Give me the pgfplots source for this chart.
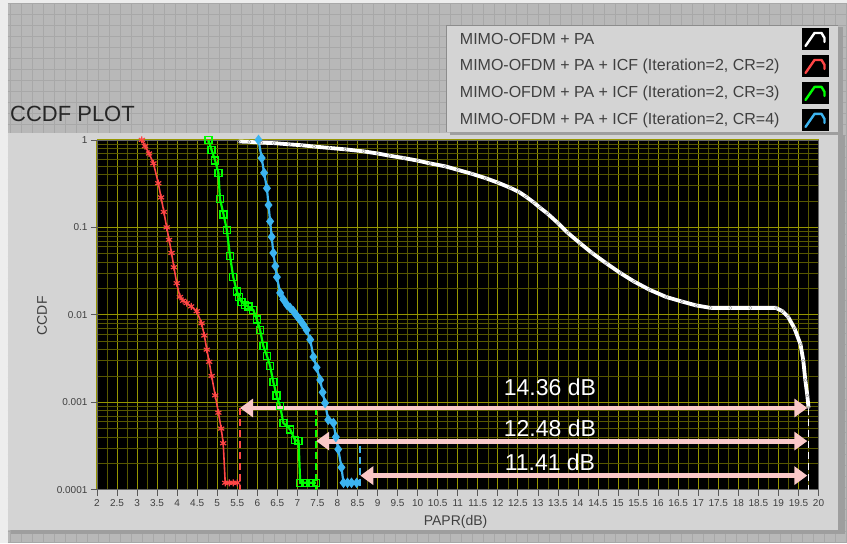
\documentclass[border=0pt]{standalone}
\usepackage{pgfplots}
\pgfplotsset{compat=1.18}
\usepackage{fontspec}
\setmainfont{Liberation Sans}
\usetikzlibrary{arrows.meta}
\definecolor{bggray}{RGB}{184,184,184}
\definecolor{bgline}{RGB}{168,168,168}
\definecolor{panelgray}{RGB}{212,212,212}
\definecolor{txtgray}{RGB}{64,64,64}
\definecolor{gridmaj}{RGB}{150,150,0}
\definecolor{gridmin}{RGB}{88,88,0}
\definecolor{cred}{RGB}{255,70,70}
\definecolor{cgreen}{RGB}{0,255,0}
\definecolor{cblue}{RGB}{60,180,240}
\definecolor{apink}{RGB}{250,200,200}

\pgfplotstableread{
x y
5.54 0.96
5.80 0.95
6.10 0.93
6.41 0.92
6.80 0.89
7.10 0.87
7.42 0.84
7.80 0.81
8.20 0.78
8.65 0.74
9.00 0.70
9.30 0.66
9.66 0.62
10.00 0.58
10.30 0.54
10.68 0.50
11.00 0.455
11.35 0.41
11.70 0.365
12.00 0.325
12.30 0.285
12.52 0.255
12.70 0.225
12.90 0.192
13.05 0.168
13.23 0.145
13.50 0.112
13.74 0.087
14.05 0.066
14.35 0.051
14.70 0.039
15.06 0.030
15.40 0.024
15.78 0.0194
16.20 0.016
16.59 0.0142
16.95 0.0128
17.31 0.0120
17.80 0.0120
18.30 0.0120
18.94 0.0120
19.10 0.0110
19.24 0.0095
19.40 0.0070
19.55 0.0046
19.62 0.0030
19.67 0.0018
19.72 0.0012
19.75 0.00087
}\tblpa

\pgfplotstableread{
x y
3.12 1
3.20 0.85
3.30 0.70
3.41 0.54
3.53 0.32
3.60 0.22
3.67 0.15
3.74 0.10
3.80 0.072
3.86 0.051
3.92 0.035
3.99 0.023
4.07 0.016
4.15 0.0145
4.24 0.0136
4.35 0.0125
4.49 0.011
4.61 0.008
4.68 0.0058
4.74 0.004
4.80 0.0029
4.86 0.002
4.95 0.0012
5.03 0.00076
5.10 0.0005
5.15 0.00034
5.20 0.00012
5.30 0.00012
5.40 0.00012
5.50 0.00012
}\tblcrtwo

\pgfplotstableread{
x y
4.78 1
4.86 0.77
4.95 0.58
5.03 0.42
5.07 0.21
5.16 0.14
5.24 0.094
5.32 0.047
5.40 0.027
5.49 0.0185
5.55 0.016
5.61 0.014
5.70 0.013
5.78 0.0124
5.90 0.0114
5.99 0.0088
6.07 0.0067
6.15 0.0044
6.24 0.0034
6.32 0.0026
6.40 0.0017
6.48 0.0012
6.57 0.0009
6.65 0.00058
6.82 0.00049
6.94 0.00037
7.03 0.00036
7.07 0.00012
7.20 0.00012
7.33 0.00012
7.46 0.00012
}\tblcrthree

\pgfplotstableread{
x y
6.03 1
6.11 0.62
6.17 0.42
6.24 0.28
6.28 0.18
6.32 0.117
6.36 0.078
6.40 0.051
6.45 0.036
6.49 0.027
6.57 0.0178
6.65 0.015
6.74 0.013
6.82 0.012
6.90 0.011
6.98 0.0098
7.07 0.0087
7.15 0.0077
7.23 0.0067
7.32 0.0052
7.40 0.0033
7.48 0.0025
7.57 0.0018
7.63 0.0013
7.69 0.00098
7.77 0.00063
7.90 0.00058
7.96 0.0004
8.02 0.00029
8.10 0.00018
8.15 0.00012
8.25 0.00012
8.35 0.00012
8.48 0.00012
}\tblcrfour

\begin{document}
\begin{tikzpicture}[x=1pt,y=1pt]
% front panel background
\fill[black!7] (0,0) rectangle (847,543);
\fill[bggray] (8,0) rectangle (847,540);
\draw[bgline, line width=1pt, step=11] (8,0) grid (847,540);
% graph panel
\fill[black!38] (11,9) rectangle (845,408);
\fill[panelgray] (8,13) rectangle (838,410);
% legend panel
\fill[black!38] (450,408) rectangle (843,516);
\fill[panelgray] (447,411) rectangle (838,518);
\draw[black!45, line width=0.6pt] (447,411) -- (447,518) -- (838,518);
% title
\node[anchor=base west, font=\fontsize{22}{22}\selectfont, text=black!85, inner sep=0pt] at (10,421) {CCDF PLOT};
% legend entries
\foreach \yy/\txt/\col in {504/{MIMO-OFDM + PA}/white, 477/{MIMO-OFDM + PA + ICF (Iteration=2, CR=2)}/cred, 450/{MIMO-OFDM + PA + ICF (Iteration=2, CR=3)}/cgreen, 423/{MIMO-OFDM + PA + ICF (Iteration=2, CR=4)}/cblue}{
  \node[anchor=west, font=\fontsize{16}{16}\selectfont, text=txtgray, inner sep=0pt] at (460,\yy) {\txt};
  \fill[black] (802,\yy-11) rectangle (829,\yy+11);
  \draw[\col, line width=2.4pt, line join=round, line cap=round] (806,\yy-7) -- (815,\yy+6) -- (822,\yy+6) -- (825,\yy+1) -- (825,\yy-3);
}
\begin{axis}[
  at={(97pt,53pt)}, anchor=south west,
  scale only axis, width=722pt, height=350pt,
  xmin=2, xmax=20, ymode=log, ymin=1e-4, ymax=1,
  axis background/.style={fill=black},
  axis line style={draw=black!60, line width=0.6pt},
  xtick={2,2.5,...,20},
  xticklabels={2,2.5,3,3.5,4,4.5,5,5.5,6,6.5,7,7.5,8,8.5,9,9.5,10,10.5,11,11.5,12,12.5,13,13.5,14,14.5,15,15.5,16,16.5,17,17.5,18,18.5,19,19.5,20},
  minor xtick={2.25,2.75,...,19.75},
  ytick={1e-4,1e-3,1e-2,1e-1,1},
  yticklabels={0.0001,0.001,0.01,0.1,1},
  minor ytick={2e-4,3e-4,4e-4,5e-4,6e-4,7e-4,8e-4,9e-4,2e-3,3e-3,4e-3,5e-3,6e-3,7e-3,8e-3,9e-3,2e-2,3e-2,4e-2,5e-2,6e-2,7e-2,8e-2,9e-2,0.2,0.3,0.4,0.5,0.6,0.7,0.8,0.9},
  grid=both,
  major grid style={draw=gridmaj, line width=0.9pt},
  minor grid style={draw=gridmin, line width=0.6pt},
  tick align=outside, xtick pos=bottom, ytick pos=left,
  major tick length=6pt, minor tick length=0pt,
  tick style={draw=black!65, line width=0.8pt},
  ticklabel style={font=\fontsize{10}{10}\selectfont, text=txtgray},
  xlabel={PAPR(dB)}, ylabel={CCDF},
  label style={font=\fontsize{14}{14}\selectfont, text=txtgray},
  xlabel style={at={(axis description cs:0.497,-0.0914)}, anchor=center},
  ylabel style={at={(axis description cs:-0.0762,0.497)}, anchor=center},
]
\addplot[cred, line width=1.6pt, mark=asterisk, mark size=3.5pt, mark options={line width=1.2pt}] table {\tblcrtwo};
\addplot[cgreen, line width=2.2pt, mark=square, mark size=3.5pt, mark options={line width=1.4pt}] table {\tblcrthree};
\addplot[cblue, line width=2.2pt, mark=diamond*, mark size=3.5pt] table {\tblcrfour};
\addplot[white, line width=3.8pt, line join=round, mark=o, mark size=1.6pt, mark options={draw=black!40, line width=0.4pt}] table {\tblpa};
% dashed markers
\draw[cred, line width=1.8pt, dash pattern=on 7pt off 4pt] (axis cs:5.57,8.6e-4) -- (axis cs:5.57,1e-4);
\draw[cgreen, line width=1.8pt, dash pattern=on 7pt off 4pt] (axis cs:7.47,8.6e-4) -- (axis cs:7.47,1e-4);
\draw[cblue, line width=1.8pt, dash pattern=on 7pt off 4pt] (axis cs:8.57,3.2e-4) -- (axis cs:8.57,1e-4);
\draw[white, line width=1.8pt, dash pattern=on 7pt off 4pt] (axis cs:19.75,8.6e-4) -- (axis cs:19.75,1e-4);
% arrows
\draw[apink, line width=5pt, {Triangle[length=13pt,width=18pt]}-{Triangle[length=13pt,width=18pt]}] (axis cs:5.57,8.6e-4) -- (axis cs:19.72,8.6e-4);
\draw[apink, line width=5pt, {Triangle[length=13pt,width=18pt]}-{Triangle[length=13pt,width=18pt]}] (axis cs:7.47,3.6e-4) -- (axis cs:19.72,3.6e-4);
\draw[apink, line width=5pt, {Triangle[length=13pt,width=18pt]}-{Triangle[length=13pt,width=18pt]}] (axis cs:8.57,1.45e-4) -- (axis cs:19.72,1.45e-4);
\node[text=white, font=\fontsize{23}{23}\selectfont] at (axis cs:13.3,1.5e-3) {14.36 dB};
\node[text=white, font=\fontsize{23}{23}\selectfont] at (axis cs:13.3,5.1e-4) {12.48 dB};
\node[text=white, font=\fontsize{23}{23}\selectfont] at (axis cs:13.3,2.04e-4) {11.41 dB};
\end{axis}
\end{tikzpicture}
\end{document}
